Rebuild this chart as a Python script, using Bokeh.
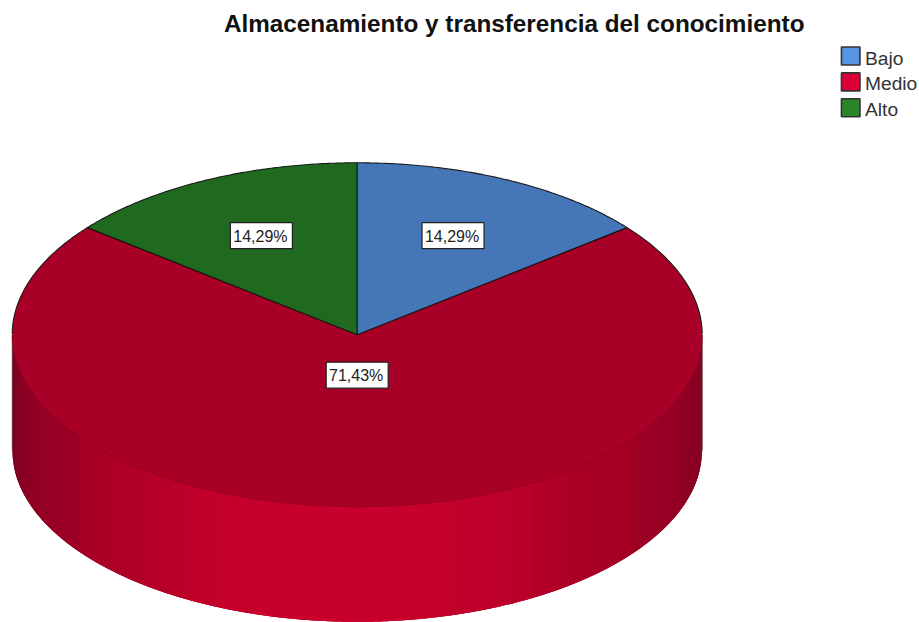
import math
from bokeh.plotting import figure
from bokeh.models import Range1d
from bokeh.core.properties import value
from bokeh.embed import file_html
from bokeh.resources import INLINE

title = "Almacenamiento y transferencia del conocimiento"
categories = ["Bajo", "Medio", "Alto"]
percent = [14.29, 71.43, 14.29]
percent_labels = ["14,29%", "71,43%", "14,29%"]

top_colors = ["#4577B8", "#A80026", "#1F6A1F"]
legend_colors = ["#5795E3", "#DC0036", "#2A8429"]
label_radius = [0.64, 0.235, 0.64]
side_stops = [(12, "#7E0021"), (22, "#880022"), (37, "#930024"), (60, "#990024"), (79.5, "#9C0024"),
              (80.5, "#A70026"), (109.5, "#AA0026"), (110.5, "#AD0027"), (144.5, "#B20028"),
              (145.5, "#B50028"), (181.5, "#BB0029"), (182.5, "#BE002A"), (267.5, "#C8002C"),
              (447.5, "#C8002C"), (448.5, "#C2002B"), (531.5, "#B80029"), (532.5, "#B40028"),
              (569.5, "#AE0027"), (570.5, "#AB0027"), (632.5, "#A40025"), (633.5, "#9E0024"),
              (675, "#950023"), (702, "#840021")]

CX, CY, RX, RY, DEPTH = 356.7, 334.3, 345.0, 172.0, 115.0


def rgb(c):
    return tuple(int(c[i:i + 2], 16) for i in (1, 3, 5))


def side_color(x):
    for (x0, c0), (x1, c1) in zip(side_stops, side_stops[1:]):
        if x <= x1:
            t = max(0.0, (x - x0) / (x1 - x0))
            a, b = rgb(c0), rgb(c1)
            return "#%02X%02X%02X" % tuple(round(a[i] + (b[i] - a[i]) * t) for i in range(3))
    return side_stops[-1][1]


def arc_y(x):
    u = max(0.0, 1 - ((x - CX) / RX) ** 2)
    return CY + RY * math.sqrt(u)


p = figure(width=919, height=622, output_backend="svg", toolbar_location=None,
           x_range=Range1d(0, 919), y_range=Range1d(622, 0), min_border=0,
           x_axis_location=None, y_axis_location=None, outline_line_color=None,
           margin=(0, 0, 0, 0))
p.grid.visible = False
p.background_fill_color = "white"
p.border_fill_color = "white"

# extruded side, as narrow pixel-aligned columns shaded across the width
L, R = CX - RX, CX + RX
xs, ys, cols = [], [], []
col_x = math.floor(L)
while col_x < R:
    x0 = max(col_x, L)
    x2 = min(col_x + 3, R)
    xs.append([x0, x2, x2, x0])
    ys.append([CY, CY, arc_y(x2) + DEPTH, arc_y(x0) + DEPTH])
    cols.append(side_color(col_x + 0.5))
    col_x += 1
p.patches(xs, ys, fill_color=cols, line_color=None)

# thin edge of the side
p.line([L, L], [CY, CY + DEPTH], line_color="#555555", line_width=1, line_alpha=0.7)
p.line([R, R], [CY, CY + DEPTH], line_color="#555555", line_width=1, line_alpha=0.7)

# top face wedges, clockwise from twelve o'clock
total = sum(percent)
start = 0.0
mids = []
outer = []
for cat, val, col in zip(categories, percent, top_colors):
    sweep = val / total * 2 * math.pi
    n = max(4, int(sweep * 120))
    a = [start + sweep * i / n for i in range(n + 1)]
    wx = [CX] + [CX + RX * math.sin(t) for t in a]
    wy = [CY] + [CY - RY * math.cos(t) for t in a]
    p.patch(wx, wy, fill_color=col, line_color=None)
    mids.append(start + sweep / 2)
    outer.append((a, wx[1:], wy[1:]))
    start += sweep

# arcs: black on the back half, faint on the front edge
for i in (0, 2):
    a, wx, wy = outer[i]
    p.line(wx, wy, line_color="#1A1A1A", line_width=1.1)
a, wx, wy = outer[1]
hi = [(t, u, v) for t, u, v in zip(a, wx, wy) if t < math.pi / 2 + 0.001]
lo = [(t, u, v) for t, u, v in zip(a, wx, wy) if t > 3 * math.pi / 2 - 0.001]
p.line([h[1] for h in hi], [h[2] for h in hi], line_color="#1A1A1A", line_width=1.1)
p.line([h[1] for h in lo], [h[2] for h in lo], line_color="#1A1A1A", line_width=1.1)
front = [(t, u, v) for t, u, v in zip(a, wx, wy) if math.pi / 2 <= t <= 3 * math.pi / 2]
p.line([h[1] for h in front], [h[2] for h in front], line_color="#7A001C", line_width=1, line_alpha=0.45)

# spokes
b = 0.0
for val in percent:
    t = b
    p.line([CX, CX + RX * math.sin(t)], [CY, CY - RY * math.cos(t)], line_color="#101010", line_width=1.2)
    b += val / total * 2 * math.pi

# value labels
lx = [CX + RX * r * math.sin(m) for r, m in zip(label_radius, mids)]
ly = [CY - RY * r * math.cos(m) for r, m in zip(label_radius, mids)]
p.rect(lx, ly, width=62, height=26, fill_color="white", line_color="#222222", line_width=1.2)
p.text([v - 1 for v in lx], [v + 0.5 for v in ly], text=percent_labels, text_font=value("Liberation Sans"),
       text_font_size="16px", text_color="#222222", text_align="center", text_baseline="middle")

# title
p.text([513.7], [23.3], text=[title], text_font=value("Liberation Sans"), text_font_style="bold",
       text_font_size="24.3px", text_color="#111111", text_align="center", text_baseline="middle")

# legend
leg_y = [55.5 + 25.9 * i for i in range(len(categories))]
p.rect([850.2] * 3, leg_y, width=18.5, height=18, fill_color=legend_colors, line_color="#333333", line_width=1.6)
p.text([864.5] * 3, [v + 2 for v in leg_y], text=categories, text_font=value("Liberation Sans"),
       text_font_size="19.2px", text_color="#333333", text_align="left", text_baseline="middle")

open("out.html", "w").write(file_html(p, INLINE))
